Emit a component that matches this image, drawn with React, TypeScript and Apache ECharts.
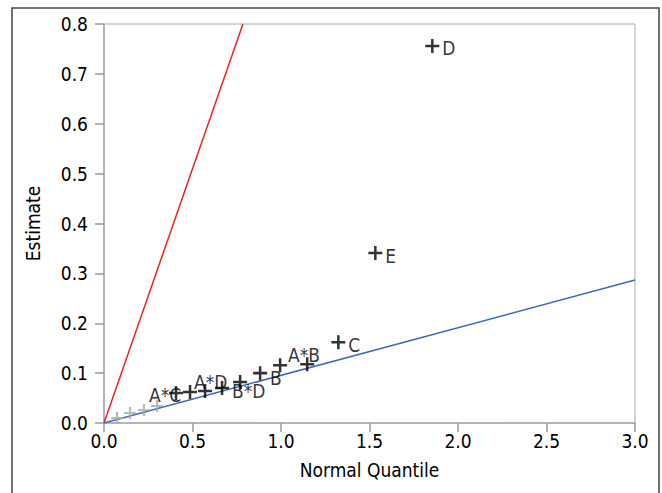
import React, { useEffect, useRef } from "react";
import * as echarts from "echarts";

const xTicks = [0, 0.5, 1.0, 1.5, 2.0, 2.5, 3.0];
const yTicks = [0, 0.1, 0.2, 0.3, 0.4, 0.5, 0.6, 0.7, 0.8];

// significant effects (black) : [normal quantile, estimate]
const labeledX = [0.407, 0.486, 0.571, 0.667, 0.769, 0.882, 0.995, 1.148, 1.324, 1.533, 1.855];
const labeledY = [0.060, 0.062, 0.064, 0.070, 0.082, 0.100, 0.116, 0.118, 0.162, 0.341, 0.756];
const labeledNames = ["A*C", "A*D", "", "B*D", "", "B", "A*B", "", "C", "E", "D"];

// small effects (gray)
const smallX = [0.074, 0.147, 0.226, 0.300];
const smallY = [0.010, 0.020, 0.026, 0.034];

// reference lines
const redLine = [[0, 0], [0.785, 0.8]];
const blueLine = [[0, 0], [3.0, 0.2867]];

const labelOffsets: Record<string, number[]> = {
  "A*C": [-38, 2],
  "A*D": [-7, -10],
  "B*D": [-1, 3],
  B: [-1, 5],
  "A*B": [-3, -10],
  C: [-1, 3],
  E: [-1, 3],
  D: [-1, 2],
};

const plusPath = "path://M4.1,0H5.9V4.1H10V5.9H5.9V10H4.1V5.9H0V4.1H4.1Z";

export default function App() {
  const ref = useRef<HTMLDivElement>(null);
  useEffect(() => {
    if (!ref.current) return;
    const chart = echarts.init(ref.current, undefined, { renderer: "svg" });
    const font = "DejaVu Sans Condensed";
    const blackData = labeledX.map((x, i) => {
      const name = labeledNames[i];
      return {
        value: [x, labeledY[i]],
        label: name
          ? {
              show: true,
              formatter: name,
              position: "right",
              distance: 4,
              offset: labelOffsets[name] || [0, 0],
              color: "#000",
              fontSize: 19,
              fontFamily: font,
            }
          : { show: false },
      };
    });
    chart.setOption({
      animation: false,
      backgroundColor: "#fff",
      grid: {
        left: 104,
        right: 27,
        top: 24,
        bottom: 70,
        show: true,
        borderColor: "#aaa",
        borderWidth: 1,
        backgroundColor: "transparent",
      },
      graphic: [
        {
          type: "rect",
          shape: { x: 12, y: 8, width: 647, height: 500 },
          style: { fill: "none", stroke: "#444", lineWidth: 1.5 },
          silent: true,
        },
      ],
      xAxis: {
        type: "value",
        min: xTicks[0],
        max: xTicks[xTicks.length - 1],
        interval: 0.5,
        name: "Normal Quantile",
        nameLocation: "middle",
        nameGap: 37,
        nameTextStyle: { color: "#000", fontSize: 19, fontFamily: font },
        axisLine: { show: true, lineStyle: { color: "#aaa", width: 1.5 } },
        axisTick: { show: true, inside: false, length: 9, lineStyle: { color: "#999", width: 1.5 } },
        axisLabel: {
          color: "#000",
          fontSize: 19,
          fontFamily: font,
          margin: 8,
          formatter: (v: number) => v.toFixed(1),
        },
        splitLine: { show: false },
      },
      yAxis: {
        type: "value",
        min: yTicks[0],
        max: yTicks[yTicks.length - 1],
        interval: 0.1,
        name: "Estimate",
        nameLocation: "middle",
        nameGap: 62,
        nameRotate: 90,
        nameTextStyle: { color: "#000", fontSize: 19, fontFamily: font },
        axisLine: { show: true, lineStyle: { color: "#aaa", width: 1.5 } },
        axisTick: { show: true, inside: false, length: 9, lineStyle: { color: "#999", width: 1.5 } },
        axisLabel: {
          color: "#000",
          fontSize: 19,
          fontFamily: font,
          margin: 16,
          formatter: (v: number) => v.toFixed(1),
        },
        splitLine: { show: false },
      },
      series: [
        {
          type: "line",
          data: redLine,
          showSymbol: false,
          symbol: "none",
          lineStyle: { color: "#ee2222", width: 1.5 },
          clip: true,
          silent: true,
          z: 1,
        },
        {
          type: "line",
          data: blueLine,
          showSymbol: false,
          symbol: "none",
          lineStyle: { color: "#3d68c6", width: 1.5 },
          clip: true,
          silent: true,
          z: 1,
        },
        {
          type: "scatter",
          data: smallX.map((x, i) => [x, smallY[i]]),
          symbol: plusPath,
          symbolSize: 12,
          itemStyle: { color: "#a8a8a8" },
          z: 2,
        },
        {
          type: "scatter",
          data: blackData,
          symbol: plusPath,
          symbolSize: 14,
          itemStyle: { color: "#000" },
          z: 3,
        },
      ],
    });
    return () => chart.dispose();
  }, []);
  return (
    <div
      ref={ref}
      style={{ position: "fixed", left: 0, top: 0, width: 662, height: 493 }}
    />
  );
}
